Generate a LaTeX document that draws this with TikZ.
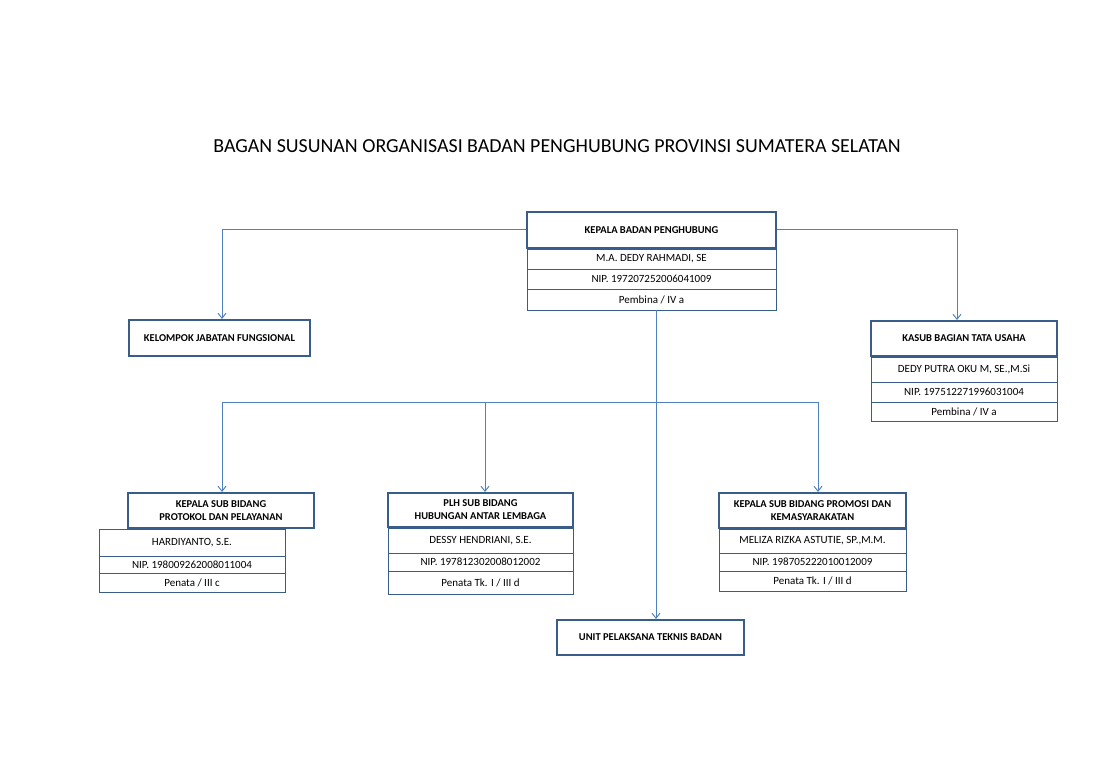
\documentclass[tikz,border=0pt]{standalone}
\usepackage{fontspec}
\setmainfont{Carlito}
\usetikzlibrary{positioning,arrows.meta}
\definecolor{garisbiru}{HTML}{4F81BD}
\definecolor{bingkai}{HTML}{385D8A}
\begin{document}
\begin{tikzpicture}[x=1pt,y=-1pt,
    kotak/.style 2 args={draw=bingkai, line width=2pt, inner sep=0pt,
      minimum width=#1, minimum height=#2, align=center,
      font=\fontsize{10.5}{13}\selectfont\bfseries},
    baris/.style 2 args={draw=bingkai, line width=0.9pt, inner sep=0pt,
      outer sep=0pt, minimum width=#1, minimum height=#2,
      font=\fontsize{11}{13}\selectfont},
    garis/.style={draw=garisbiru, line width=1pt, -{Straight Barb[length=5pt,width=8pt]}}]
  \useasboundingbox (0,0) rectangle (1112,770);

  \node (judul) at (557,146) {\fontsize{19.9}{24}\selectfont BAGAN SUSUNAN ORGANISASI BADAN PENGHUBUNG PROVINSI SUMATERA SELATAN};

  \node [kotak={249}{36}] (kepala) at (651.5,230) {KEPALA BADAN PENGHUBUNG};
  \node [baris={249}{20}, below=0pt of kepala] (kepalanama) {M.A. DEDY RAHMADI, SE};
  \node [baris={249}{20}, below=0pt of kepalanama] (kepalanip) {NIP. 197207252006041009};
  \node [baris={249}{21}, below=0pt of kepalanip] (kepalapangkat) {Pembina / IV a};

  \node [kotak={181}{36}] (fungsional) at (219.5,338) {KELOMPOK JABATAN FUNGSIONAL};

  \node [kotak={186}{35}] (tu) at (964,338.5) {KASUB BAGIAN TATA USAHA};
  \node [baris={186}{25}, below=0pt of tu] (tunama) {DEDY PUTRA OKU M, SE.,M.Si};
  \node [baris={186}{20}, below=0pt of tunama] (tunip) {NIP. 197512271996031004};
  \node [baris={186}{19}, below=0pt of tunip] (tupangkat) {Pembina / IV a};

  \node [kotak={186}{35}] (protokol) at (221,510.5) {KEPALA SUB BIDANG\\PROTOKOL DAN PELAYANAN};
  \node [baris={186}{27}, below=0pt of protokol, xshift=-29pt] (protokolnama) {HARDIYANTO, S.E.};
  \node [baris={186}{17}, below=0pt of protokolnama] (protokolnip) {NIP. 198009262008011004};
  \node [baris={186}{19}, below=0pt of protokolnip] (protokolpangkat) {Penata / III c};

  \node [kotak={185}{34}] (humas) at (480.5,510) {PLH SUB BIDANG\\HUBUNGAN ANTAR LEMBAGA};
  \node [baris={185}{25}, below=0pt of humas] (humasnama) {DESSY HENDRIANI, S.E.};
  \node [baris={185}{18}, below=0pt of humasnama] (humasnip) {NIP. 197812302008012002};
  \node [baris={185}{23}, below=0pt of humasnip] (humaspangkat) {Penata Tk. I / III d};

  \node [kotak={187}{35}] (promosi) at (812.5,510.5) {KEPALA SUB BIDANG PROMOSI DAN\\KEMASYARAKATAN};
  \node [baris={187}{24}, below=0pt of promosi] (promosinama) {MELIZA RIZKA ASTUTIE, SP.,M.M.};
  \node [baris={187}{18}, below=0pt of promosinama] (promosinip) {NIP. 198705222010012009};
  \node [baris={187}{20}, below=0pt of promosinip] (promosipangkat) {Penata Tk. I / III d};

  \node [kotak={187}{35}] (upt) at (650.5,637.5) {UNIT PELAKSANA TEKNIS BADAN};

  \coordinate (cabang) at (656,402);
  \draw [garis] (kepala.west) -| ([xshift=2.5pt]fungsional.north);
  \draw [garis] (kepala.east) -| ([xshift=-7pt]tu.north);
  \draw [garis] (kepalapangkat.south -| cabang) -- (upt.north -| cabang);
  \draw [garis] (cabang) -| ([xshift=1pt]protokol.north);
  \draw [garis] (cabang) -| ([xshift=4.5pt]humas.north);
  \draw [garis] (cabang) -| ([xshift=5.5pt]promosi.north);
\end{tikzpicture}
\end{document}
